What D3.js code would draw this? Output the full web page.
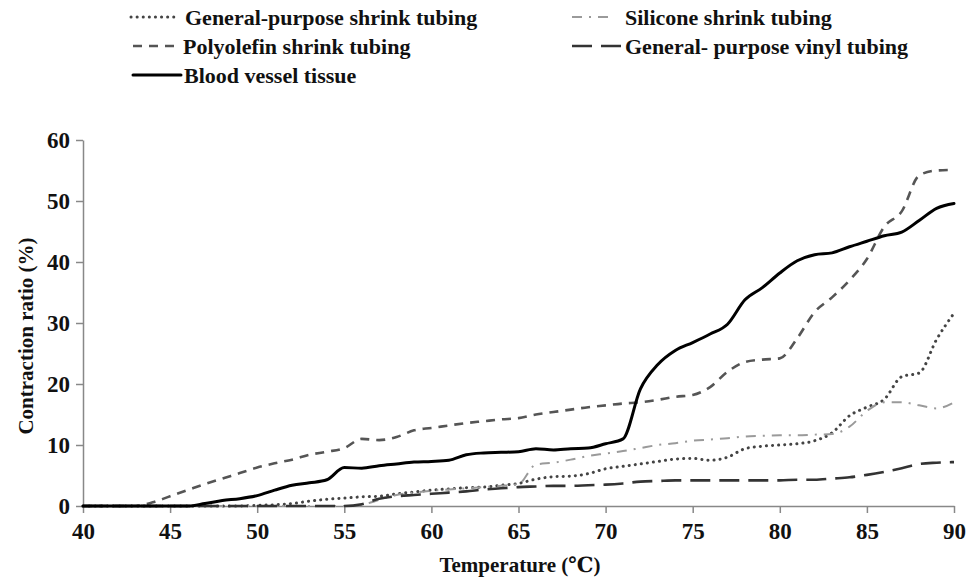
<!DOCTYPE html>
<html><head><meta charset="utf-8">
<script src="https://cdn.jsdelivr.net/npm/d3@7/dist/d3.min.js"></script>
<style>
body{margin:0;background:#fff;}
svg text{font-family:"Times New Roman","Liberation Serif","DejaVu Serif",serif;font-weight:bold;fill:#111;}
</style></head><body>
<svg id="chart" width="977" height="582"></svg>
<script>
const temperature = d3.range(40, 91, 1);
const xTicks = [40,45,50,55,60,65,70,75,80,85,90];
const yTicks = [0,10,20,30,40,50,60];

const generalShrink = [0,0,0,0,0,0,0,0,0,0, 0.1,0.2,0.4,0.8,1.1,1.3,1.5,1.6,2.0,2.3, 2.6,2.8,3.0,3.1,3.4,3.7,4.4,4.8,4.9,5.3, 6.1,6.5,6.9,7.3,7.7,7.8,7.5,8.0,9.4,9.8, 10.0,10.2,10.7,12.0,14.8,16.2,17.5,21.2,21.8,27.3, 31.6];
const silicone = [0,0,0,0,0,0,0,0,0,0, 0,0,0,0,0,0,0.2,1.0,1.8,2.2, 2.5,2.7,2.9,3.1,3.3,3.6,6.8,7.1,7.6,8.2, 8.6,9.0,9.5,10.0,10.3,10.7,10.9,11.1,11.4,11.5, 11.6,11.6,11.7,11.8,13.0,15.6,17.0,17.0,16.5,16.0, 17.0];
const polyolefin = [0,0,0,0,0.6,1.6,2.6,3.6,4.5,5.4, 6.3,7.0,7.6,8.4,8.9,9.5,11.0,10.8,11.3,12.4, 12.8,13.2,13.6,13.9,14.2,14.4,15.0,15.4,15.8,16.2, 16.5,16.8,17.0,17.4,17.9,18.2,19.5,22.0,23.6,24.0, 24.2,27.5,31.8,34.2,37.0,40.5,45.8,48.3,54.2,55.0, 55.1];
const vinyl = [0,0,0,0,0,0,0,0,0,0, 0,0,0,0,0,0,0.3,1.2,1.6,1.8, 2.0,2.2,2.4,2.7,2.9,3.1,3.2,3.3,3.3,3.4, 3.5,3.7,4.0,4.1,4.2,4.2,4.2,4.2,4.2,4.2, 4.2,4.3,4.3,4.5,4.7,5.1,5.6,6.2,6.9,7.1, 7.2];
const bloodVessel = [0,0,0,0,0,0,0,0.4,0.9,1.2, 1.7,2.6,3.4,3.8,4.3,6.3,6.2,6.6,6.9,7.2, 7.3,7.5,8.4,8.7,8.8,8.9,9.4,9.2,9.4,9.5, 10.2,11.0,19.2,23.2,25.5,26.8,28.2,29.8,33.8,35.8, 38.2,40.2,41.2,41.5,42.5,43.4,44.3,44.9,46.8,48.8, 49.6];

const seriesNames = ["General-purpose shrink tubing","Silicone shrink tubing","Polyolefin shrink tubing","General- purpose vinyl tubing","Blood vessel tissue"];

const series = [
  {name:seriesNames[0], values:generalShrink, color:"#444", width:3, dash:"0.1,6", cap:"round"},
  {name:seriesNames[1], values:silicone, color:"#9a9a9a", width:2, dash:"10,7,2,7", cap:"butt"},
  {name:seriesNames[2], values:polyolefin, color:"#555", width:2.6, dash:"9,7", cap:"butt"},
  {name:seriesNames[3], values:vinyl, color:"#333", width:2.6, dash:"20,9", cap:"butt"},
  {name:seriesNames[4], values:bloodVessel, color:"#000", width:3, dash:null, cap:"round"}
];

const svg = d3.select("#chart");
const x = d3.scaleLinear().domain([40,90]).range([83,954]);
const y = d3.scaleLinear().domain([0,60]).range([506,140]);

const xAxis = svg.append("g").attr("transform","translate(0,506)")
  .call(d3.axisBottom(x).tickValues(xTicks).tickSize(7).tickSizeOuter(0).tickPadding(10));
const yAxis = svg.append("g").attr("transform","translate(83,0)")
  .call(d3.axisLeft(y).tickValues(yTicks).tickSize(7).tickSizeOuter(0).tickPadding(6));
[xAxis,yAxis].forEach(a=>{
  a.attr("font-family",null).attr("font-size",null);
  a.select(".domain").attr("stroke","#888").attr("stroke-width",1.5);
  a.selectAll(".tick line").attr("stroke","#888").attr("stroke-width",1.5);
  a.selectAll(".tick text").style("font-size","23px").attr("fill","#111");
});

const line = d3.line().x((d,i)=>x(temperature[i])).y(d=>y(d)).curve(d3.curveMonotoneX);
series.forEach(s=>{
  svg.append("path").attr("d", line(s.values)).attr("fill","none")
    .attr("stroke", s.color).attr("stroke-width", s.width)
    .attr("stroke-dasharray", s.dash).attr("stroke-linecap", s.cap).attr("stroke-linejoin","round");
});

svg.append("text").attr("x",520).attr("y",572).attr("text-anchor","middle").style("font-size","21px").text("Temperature (℃)");
svg.append("text").attr("transform","translate(33,336) rotate(-90)").attr("text-anchor","middle").style("font-size","21px").text("Contraction  ratio (%)");

const legend = [
  {s:series[0], x1:131, x2:178, tx:185, ty:17},
  {s:series[1], x1:572, x2:608, tx:625, ty:17},
  {s:series[2], x1:133, x2:181, tx:183, ty:46},
  {s:series[3], x1:572, x2:622, tx:625, ty:46},
  {s:series[4], x1:133, x2:181, tx:184, ty:75}
];
legend.forEach(l=>{
  svg.append("line").attr("x1",l.x1).attr("x2",l.x2).attr("y1",l.ty).attr("y2",l.ty)
    .attr("stroke",l.s.color).attr("stroke-width",l.s.width).attr("stroke-dasharray",l.s.dash).attr("stroke-linecap",l.s.cap);
  svg.append("text").attr("x",l.tx).attr("y",l.ty).attr("dy","0.35em").style("font-size","22px").text(l.s.name);
});
</script></body></html>
